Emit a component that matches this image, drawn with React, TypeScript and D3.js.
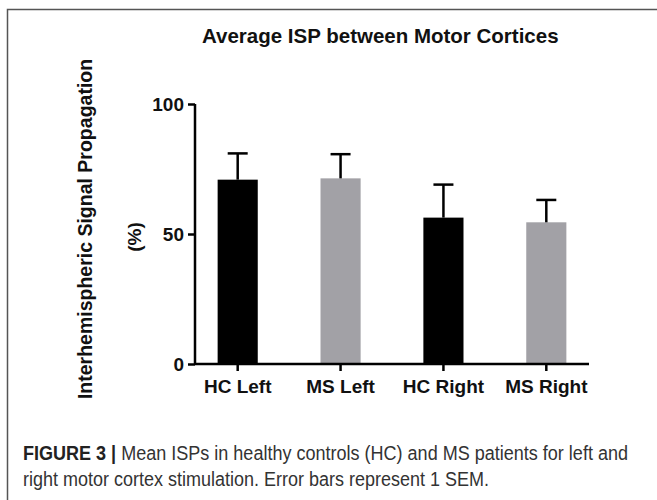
import { useEffect, useRef } from "react";
import * as d3 from "d3";

const categories = ["HC Left", "MS Left", "HC Right", "MS Right"];
const means = [70.9, 71.4, 56.3, 54.5];
const sems = [10.1, 9.3, 12.7, 8.6];
const barColors = ["#000000", "#a2a1a6", "#000000", "#a2a1a6"];
const yTicks = [0, 50, 100];

const App = () => {
  const svgRef = useRef<SVGSVGElement>(null);

  useEffect(() => {
    if (!svgRef.current) return;
    const svg = d3.select(svgRef.current);
    svg.selectAll("*").remove();

    const width = 657;
    const height = 500;
    const font = "'Liberation Sans', Arial, sans-serif";

    // figure frame (top + left only)
    svg
      .append("path")
      .attr("d", `M7.5,${height} L7.5,9.5 L${width},9.5`)
      .attr("fill", "none")
      .attr("stroke", "#555")
      .attr("stroke-width", 1.5);

    const x = d3
      .scaleBand()
      .domain(categories)
      .range([195, 589])
      .paddingInner(0.61)
      .paddingOuter(0.22);

    const y = d3.scaleLinear().domain([0, 100]).range([364, 104]);

    // title
    svg
      .append("text")
      .attr("x", 202)
      .attr("y", 43)
      .attr("font-family", font)
      .attr("font-weight", "bold")
      .attr("font-size", 20.5)
      .attr("fill", "#111")
      .text("Average ISP between Motor Cortices");

    // bars
    const g = svg.append("g");
    g.selectAll("rect.bar")
      .data(categories)
      .enter()
      .append("rect")
      .attr("class", "bar")
      .attr("x", (d) => x(d))
      .attr("width", x.bandwidth())
      .attr("y", (d, i) => y(means[i]))
      .attr("height", (d, i) => y(0) - y(means[i]))
      .attr("fill", (d, i) => barColors[i]);

    // error bars (upper only)
    const capW = 20;
    categories.forEach((c, i) => {
      const cx = x(c) + x.bandwidth() / 2;
      g.append("line")
        .attr("x1", cx)
        .attr("x2", cx)
        .attr("y1", y(means[i]))
        .attr("y2", y(means[i] + sems[i]))
        .attr("stroke", "#000")
        .attr("stroke-width", 2.5);
      g.append("line")
        .attr("x1", cx - capW / 2)
        .attr("x2", cx + capW / 2)
        .attr("y1", y(means[i] + sems[i]))
        .attr("y2", y(means[i] + sems[i]))
        .attr("stroke", "#000")
        .attr("stroke-width", 2.5);
    });

    // y axis
    const yAxis = svg
      .append("g")
      .attr("transform", "translate(195,0)")
      .call(d3.axisLeft(y).tickValues(yTicks).tickSize(7).tickPadding(4));
    yAxis.select(".domain").attr("stroke-width", 2.5).attr("d", `M0,${y(100)}V${y(0)}`);
    yAxis.selectAll(".tick line").attr("stroke-width", 2.5);
    yAxis
      .selectAll(".tick text")
      .attr("font-family", font)
      .attr("font-weight", "bold")
      .attr("font-size", 19)
      .attr("fill", "#111");

    // x axis
    const xAxis = svg
      .append("g")
      .attr("transform", "translate(0,364)")
      .call(d3.axisBottom(x).tickSize(7).tickPadding(9));
    xAxis.select(".domain").attr("stroke-width", 2.5).attr("d", "M195,0H589");
    xAxis.selectAll(".tick line").attr("stroke-width", 2.5);
    xAxis
      .selectAll(".tick text")
      .attr("font-family", font)
      .attr("font-weight", "bold")
      .attr("font-size", 19)
      .attr("fill", "#111");

    // y axis label
    svg
      .append("text")
      .attr("transform", "translate(92,229) rotate(-90)")
      .attr("text-anchor", "middle")
      .attr("font-family", font)
      .attr("font-weight", "bold")
      .attr("font-size", 19.5)
      .attr("fill", "#111")
      .text("Interhemispheric Signal Propagation");
    svg
      .append("text")
      .attr("transform", "translate(141,237) rotate(-90)")
      .attr("text-anchor", "middle")
      .attr("font-family", font)
      .attr("font-weight", "bold")
      .attr("font-size", 19)
      .attr("fill", "#111")
      .text("(%)");

    // caption
    const cap1 = svg
      .append("text")
      .attr("x", 23)
      .attr("y", 460)
      .attr("font-family", font)
      .attr("font-size", 20)
      .attr("fill", "#333")
      .attr("textLength", 605)
      .attr("lengthAdjust", "spacingAndGlyphs");
    cap1
      .append("tspan")
      .attr("font-weight", "bold")
      .attr("fill", "#222")
      .text("FIGURE 3 | ");
    cap1.append("tspan").text("Mean ISPs in healthy controls (HC) and MS patients for left and");

    svg
      .append("text")
      .attr("x", 23)
      .attr("y", 486)
      .attr("font-family", font)
      .attr("font-size", 20)
      .attr("fill", "#333")
      .attr("textLength", 466)
      .attr("lengthAdjust", "spacingAndGlyphs")
      .text("right motor cortex stimulation. Error bars represent 1 SEM.");
  }, []);

  return (
    <div style={{ position: "absolute", left: 0, top: 0 }}>
      <svg ref={svgRef} width={657} height={500} style={{ display: "block", background: "#fff" }}></svg>
    </div>
  );
};

export default App;
